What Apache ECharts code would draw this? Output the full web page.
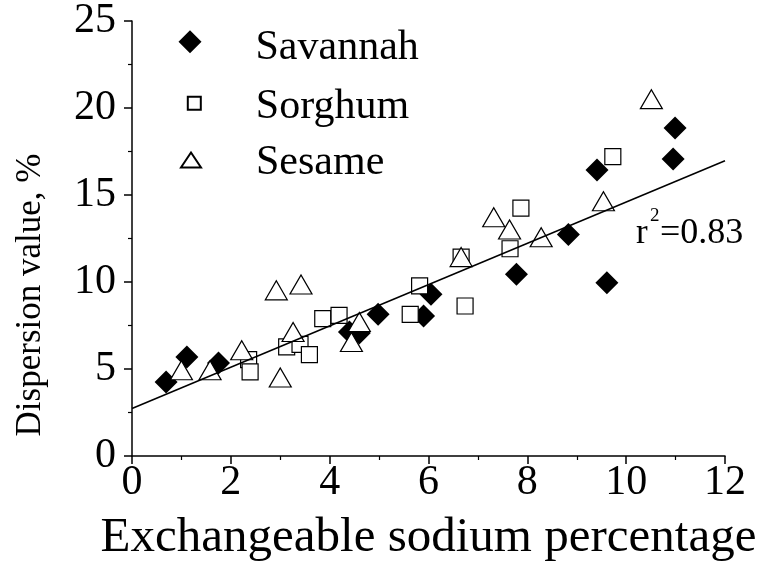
<!DOCTYPE html>
<html>
<head>
<meta charset="utf-8">
<title>Dispersion vs ESP</title>
<script src="https://cdn.jsdelivr.net/npm/echarts@6/dist/echarts.min.js"></script>
<style>
  html, body { margin: 0; padding: 0; background: #fff; }
  #chart { width: 771px; height: 568px; }
</style>
</head>
<body>
<div id="chart"></div>
<script>
// Data: [exchangeable sodium %, dispersion %]
const savannah = [
  [0.69, 4.26], [1.11, 5.69], [1.75, 5.35], [4.40, 7.13], [4.60, 7.07],
  [4.98, 8.14], [5.90, 8.05], [6.05, 9.29], [7.78, 10.44], [8.83, 12.73],
  [9.41, 16.44], [9.61, 9.96], [10.95, 17.07], [10.99, 18.85],
];
const sorghum = [
  [2.36, 5.54], [2.39, 4.83], [3.13, 6.27], [3.40, 6.42], [3.59, 5.83],
  [3.86, 7.90], [4.19, 8.08], [5.63, 8.14], [5.82, 9.78], [6.66, 11.43],
  [6.74, 8.62], [7.65, 11.91], [7.87, 14.24], [9.73, 17.20],
];
const sesame = [
  [1.00, 4.93], [1.58, 4.93], [2.22, 6.08], [2.92, 9.52], [3.00, 4.51],
  [3.26, 7.13], [3.42, 9.86], [4.44, 6.55], [4.60, 7.70], [6.66, 11.43],
  [7.32, 13.72], [7.64, 13.02], [8.28, 12.57], [9.54, 14.64], [10.51, 20.51],
];
// fitted line end points
const fitX = [0, 12];
const fitY = [2.73, 16.97];

const serif = "'Liberation Serif', 'Times New Roman', serif";
const chart = echarts.init(document.getElementById("chart"));

const hollow = { color: "#fff", borderColor: "#000", borderWidth: 1.2, opacity: 1 };
const legendText = (pl) => ({ fontFamily: serif, fontSize: 42, color: "#000", lineHeight: 20, padding: [0, 0, 0, pl] });

// legend icons: the leading move-to makes the box taller than the mark,
// so the mark sits a little above the label like in the original
const iconDiamond = "path://M0,35M11.5,0L23,11.5L11.5,23L0,11.5Z";
const iconSquare = "path://M0,20M0,0L13,0L13,13L0,13Z";
const iconTriangle = "path://M0,21.6M10,0L20,15L0,15Z";

chart.setOption({
  animation: false,
  grid: { left: 132, right: 46, top: 20, bottom: 112 },
  legend: [
    {
      data: [{ name: "Savannah", icon: iconDiamond }], left: 178.5, top: 26.7, padding: 0,
      itemWidth: 23, itemHeight: 35, textStyle: legendText(49),
    },
    {
      data: [{ name: "Sorghum", icon: iconSquare }], left: 186.8, top: 85.8, padding: 0,
      itemWidth: 13, itemHeight: 20, textStyle: legendText(50),
    },
    {
      data: [{ name: "Sesame", icon: iconTriangle }], left: 180, top: 142.3, padding: 0,
      itemWidth: 20, itemHeight: 21.6, textStyle: legendText(50),
    },
  ],
  xAxis: {
    type: "value",
    min: 0,
    max: 12,
    interval: 2,
    name: "Exchangeable sodium percentage",
    nameLocation: "middle",
    nameGap: 58,
    nameTextStyle: { fontFamily: serif, fontSize: 49, color: "#000" },
    axisLine: { lineStyle: { color: "#000", width: 1.5 } },
    axisTick: { length: 8, lineStyle: { color: "#000", width: 1.5 } },
    minorTick: { show: true, splitNumber: 2, length: 4, lineStyle: { color: "#000", width: 1.2 } },
    axisLabel: { fontFamily: serif, fontSize: 42, color: "#000", margin: 6 },
    splitLine: { show: false },
  },
  yAxis: {
    type: "value",
    min: 0,
    max: 25,
    interval: 5,
    axisLine: { show: true, lineStyle: { color: "#000", width: 1.5 } },
    axisTick: { show: true, length: 8, lineStyle: { color: "#000", width: 1.5 } },
    minorTick: { show: true, splitNumber: 2, length: 4, lineStyle: { color: "#000", width: 1.2 } },
    axisLabel: { fontFamily: serif, fontSize: 42, color: "#000", margin: 16 },
    splitLine: { show: false },
  },
  graphic: [
    {
      type: "text", x: 31, y: 295, rotation: Math.PI / 2,
      style: { text: "Dispersion value, %", font: "35px " + serif, fill: "#000", align: "center", verticalAlign: "middle" },
    },
    {
      type: "text", x: 636, y: 234,
      style: { text: "r", font: "35px " + serif, fill: "#000", align: "left", verticalAlign: "middle" },
    },
    {
      type: "text", x: 650, y: 216,
      style: { text: "2", font: "19px " + serif, fill: "#000", align: "left", verticalAlign: "middle" },
    },
    {
      type: "text", x: 660, y: 234,
      style: { text: "=0.83", font: "36px " + serif, fill: "#000", align: "left", verticalAlign: "middle" },
    },
  ],
  series: [
    {
      name: "fit",
      type: "line",
      data: fitX.map((x, i) => [x, fitY[i]]),
      showSymbol: false,
      lineStyle: { color: "#000", width: 1.5 },
      silent: true,
    },
    {
      name: "Savannah",
      type: "scatter",
      symbol: "diamond",
      symbolSize: 23,
      itemStyle: { color: "#000", opacity: 1 },
      data: savannah,
    },
    {
      name: "Sorghum",
      type: "scatter",
      symbol: "rect",
      symbolSize: 16,
      itemStyle: hollow,
      data: sorghum,
    },
    {
      name: "Sesame",
      type: "scatter",
      symbol: "triangle",
      symbolSize: [22, 19],
      itemStyle: hollow,
      data: sesame,
    },
  ],
});
</script>
</body>
</html>
